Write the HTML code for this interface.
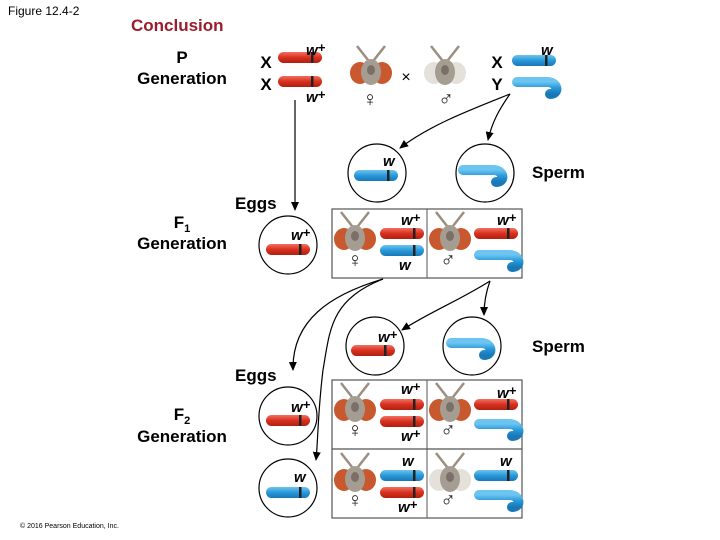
<!DOCTYPE html>
<html><head><meta charset="utf-8"><style>
html,body{margin:0;padding:0;background:#fff;}
svg{display:block;}
text{font-family:"Liberation Sans",Arial,sans-serif;}
.lb{font-weight:bold;font-size:17px;fill:#000;}
.al{font-weight:bold;font-style:italic;font-size:15px;fill:#000;}
.sx{font-size:21px;fill:#222;}
</style></head><body>
<svg width="720" height="540" viewBox="0 0 720 540" xmlns="http://www.w3.org/2000/svg">
<defs>
<linearGradient id="rg" x1="0" y1="0" x2="0" y2="1"><stop offset="0" stop-color="#f07060"/><stop offset="0.5" stop-color="#d8301e"/><stop offset="1" stop-color="#b02010"/></linearGradient>
<linearGradient id="bg" x1="0" y1="0" x2="0" y2="1"><stop offset="0" stop-color="#6cc4f0"/><stop offset="0.5" stop-color="#2a98d8"/><stop offset="1" stop-color="#1878b8"/></linearGradient>
<marker id="ah" markerWidth="10" markerHeight="10" refX="8" refY="5" orient="auto" markerUnits="userSpaceOnUse"><path d="M0,1 L9,5 L0,9 Z" fill="#000"/></marker>
<g id="red"><rect x="0" y="0" width="44" height="11" rx="5.5" fill="url(#rg)"/><rect x="33" y="0" width="2.5" height="11" fill="#222"/></g>
<g id="blue"><rect x="0" y="0" width="44" height="11" rx="5.5" fill="url(#bg)"/><rect x="33" y="0" width="2.5" height="11" fill="#222"/></g>
<g id="hook"><path d="M5,5 H34 C46,4 48,17 38,17" fill="none" stroke="url(#bg)" stroke-width="10" stroke-linecap="round"/></g>
<g id="flyR"><line x1="-3" y1="-10" x2="-14" y2="-24" stroke="#9a8f80" stroke-width="2.5"/><line x1="3" y1="-10" x2="14" y2="-24" stroke="#9a8f80" stroke-width="2.5"/><ellipse cx="-11" cy="3" rx="10" ry="11" fill="#c8582e"/><ellipse cx="11" cy="3" rx="10" ry="11" fill="#c8582e"/><ellipse cx="0" cy="2" rx="10" ry="13" fill="#a59d92"/><ellipse cx="0" cy="0" rx="4" ry="5" fill="#7a7068"/></g>
<g id="flyW"><line x1="-3" y1="-10" x2="-14" y2="-24" stroke="#9a8f80" stroke-width="2.5"/><line x1="3" y1="-10" x2="14" y2="-24" stroke="#9a8f80" stroke-width="2.5"/><ellipse cx="-11" cy="3" rx="10" ry="11" fill="#e4e0da"/><ellipse cx="11" cy="3" rx="10" ry="11" fill="#e4e0da"/><ellipse cx="0" cy="2" rx="10" ry="13" fill="#a59d92"/><ellipse cx="0" cy="0" rx="4" ry="5" fill="#7a7068"/></g>
</defs>

<text x="8" y="15" font-size="12">Figure 12.4-2</text>
<text x="131" y="31" font-size="17" font-weight="bold" fill="#9b1c2a">Conclusion</text>
<text x="182" y="63" class="lb" text-anchor="middle">P</text>
<text x="182" y="84" class="lb" text-anchor="middle">Generation</text>
<text x="182" y="228" class="lb" text-anchor="middle">F<tspan font-size="11" dy="4">1</tspan></text>
<text x="182" y="249" class="lb" text-anchor="middle">Generation</text>
<text x="182" y="420" class="lb" text-anchor="middle">F<tspan font-size="11" dy="4">2</tspan></text>
<text x="182" y="442" class="lb" text-anchor="middle">Generation</text>
<text x="20" y="528" font-size="7">© 2016 Pearson Education, Inc.</text>

<!-- P generation -->
<text x="266" y="68" class="lb" text-anchor="middle">X</text>
<text x="266" y="90" class="lb" text-anchor="middle">X</text>
<use href="#red" x="278" y="52"/>
<use href="#red" x="278" y="76"/>
<text x="306" y="55" class="al">w<tspan font-size="13" dy="-3">+</tspan></text>
<text x="306" y="102" class="al">w<tspan font-size="13" dy="-3">+</tspan></text>
<use href="#flyR" x="371" y="70"/>
<use href="#flyW" x="445" y="70"/>
<text x="406" y="82" font-size="16" text-anchor="middle">×</text>
<text x="370" y="106" class="sx" text-anchor="middle">♀</text>
<text x="446" y="106" class="sx" text-anchor="middle">♂</text>
<text x="497" y="68" class="lb" text-anchor="middle">X</text>
<text x="497" y="90" class="lb" text-anchor="middle">Y</text>
<use href="#blue" x="512" y="55"/>
<use href="#hook" x="512" y="77"/>
<text x="541" y="55" class="al">w</text>

<path d="M510,94 C470,110 430,125 400,148" fill="none" stroke="#000" stroke-width="1.2" marker-end="url(#ah)"/>
<path d="M510,94 C500,108 492,122 488,140" fill="none" stroke="#000" stroke-width="1.2" marker-end="url(#ah)"/>
<line x1="295" y1="100" x2="295" y2="210" stroke="#000" stroke-width="1.2" marker-end="url(#ah)"/>

<circle cx="377" cy="173" r="29" fill="none" stroke="#000" stroke-width="1.2"/>
<use href="#blue" x="354" y="170"/>
<text x="383" y="166" class="al">w</text>
<circle cx="485" cy="173" r="29" fill="none" stroke="#000" stroke-width="1.2"/>
<use href="#hook" x="458" y="165"/>
<text x="532" y="178" class="lb">Sperm</text>

<text x="235" y="209" class="lb">Eggs</text>
<circle cx="288" cy="245" r="29" fill="none" stroke="#000" stroke-width="1.2"/>
<use href="#red" x="266" y="244"/>
<text x="291" y="240" class="al">w<tspan font-size="13" dy="-3">+</tspan></text>

<!-- F1 box -->
<rect x="332" y="209" width="190" height="69" fill="none" stroke="#555" stroke-width="1.2"/>
<line x1="427" y1="209" x2="427" y2="278" stroke="#555" stroke-width="1"/>
<use href="#flyR" x="355" y="236"/>
<text x="355" y="267" class="sx" text-anchor="middle">♀</text>
<use href="#red" x="380" y="228"/>
<use href="#blue" x="380" y="245"/>
<text x="401" y="225" class="al">w<tspan font-size="13" dy="-3">+</tspan></text>
<text x="399" y="270" class="al">w</text>
<use href="#flyR" x="450" y="236"/>
<text x="448" y="267" class="sx" text-anchor="middle">♂</text>
<use href="#red" x="474" y="228"/>
<use href="#hook" x="474" y="250"/>
<text x="497" y="225" class="al">w<tspan font-size="13" dy="-3">+</tspan></text>

<path d="M383,279 C330,295 292,320 293,370" fill="none" stroke="#000" stroke-width="1.2" marker-end="url(#ah)"/>
<path d="M383,279 C330,300 330,330 323,370 C318,410 318,440 316,460" fill="none" stroke="#000" stroke-width="1.2" marker-end="url(#ah)"/>
<path d="M490,281 C460,300 430,312 402,330" fill="none" stroke="#000" stroke-width="1.2" marker-end="url(#ah)"/>
<path d="M490,281 C486,292 484,303 484,315" fill="none" stroke="#000" stroke-width="1.2" marker-end="url(#ah)"/>

<circle cx="375" cy="346" r="29" fill="none" stroke="#000" stroke-width="1.2"/>
<use href="#red" x="351" y="345"/>
<text x="378" y="342" class="al">w<tspan font-size="13" dy="-3">+</tspan></text>
<circle cx="472" cy="346" r="29" fill="none" stroke="#000" stroke-width="1.2"/>
<use href="#hook" x="446" y="338"/>
<text x="532" y="352" class="lb">Sperm</text>

<text x="235" y="381" class="lb">Eggs</text>
<circle cx="288" cy="416" r="29" fill="none" stroke="#000" stroke-width="1.2"/>
<use href="#red" x="266" y="415"/>
<text x="291" y="412" class="al">w<tspan font-size="13" dy="-3">+</tspan></text>
<circle cx="288" cy="488" r="29" fill="none" stroke="#000" stroke-width="1.2"/>
<use href="#blue" x="266" y="487"/>
<text x="294" y="482" class="al">w</text>

<!-- F2 box -->
<rect x="332" y="380" width="190" height="138" fill="none" stroke="#555" stroke-width="1.2"/>
<line x1="427" y1="380" x2="427" y2="518" stroke="#555" stroke-width="1"/>
<line x1="332" y1="449" x2="522" y2="449" stroke="#555" stroke-width="1.2"/>
<use href="#flyR" x="355" y="407"/>
<text x="355" y="437" class="sx" text-anchor="middle">♀</text>
<use href="#red" x="380" y="399"/>
<use href="#red" x="380" y="416"/>
<text x="401" y="394" class="al">w<tspan font-size="13" dy="-3">+</tspan></text>
<text x="401" y="441" class="al">w<tspan font-size="13" dy="-3">+</tspan></text>
<use href="#flyR" x="450" y="407"/>
<text x="448" y="437" class="sx" text-anchor="middle">♂</text>
<use href="#red" x="474" y="399"/>
<use href="#hook" x="474" y="419"/>
<text x="497" y="398" class="al">w<tspan font-size="13" dy="-3">+</tspan></text>
<use href="#flyR" x="355" y="477"/>
<text x="355" y="507" class="sx" text-anchor="middle">♀</text>
<use href="#blue" x="380" y="470"/>
<use href="#red" x="380" y="487"/>
<text x="402" y="466" class="al">w</text>
<text x="398" y="512" class="al">w<tspan font-size="13" dy="-3">+</tspan></text>
<use href="#flyW" x="450" y="477"/>
<text x="448" y="507" class="sx" text-anchor="middle">♂</text>
<use href="#blue" x="474" y="470"/>
<use href="#hook" x="474" y="490"/>
<text x="500" y="466" class="al">w</text>
</svg>
</body></html>
